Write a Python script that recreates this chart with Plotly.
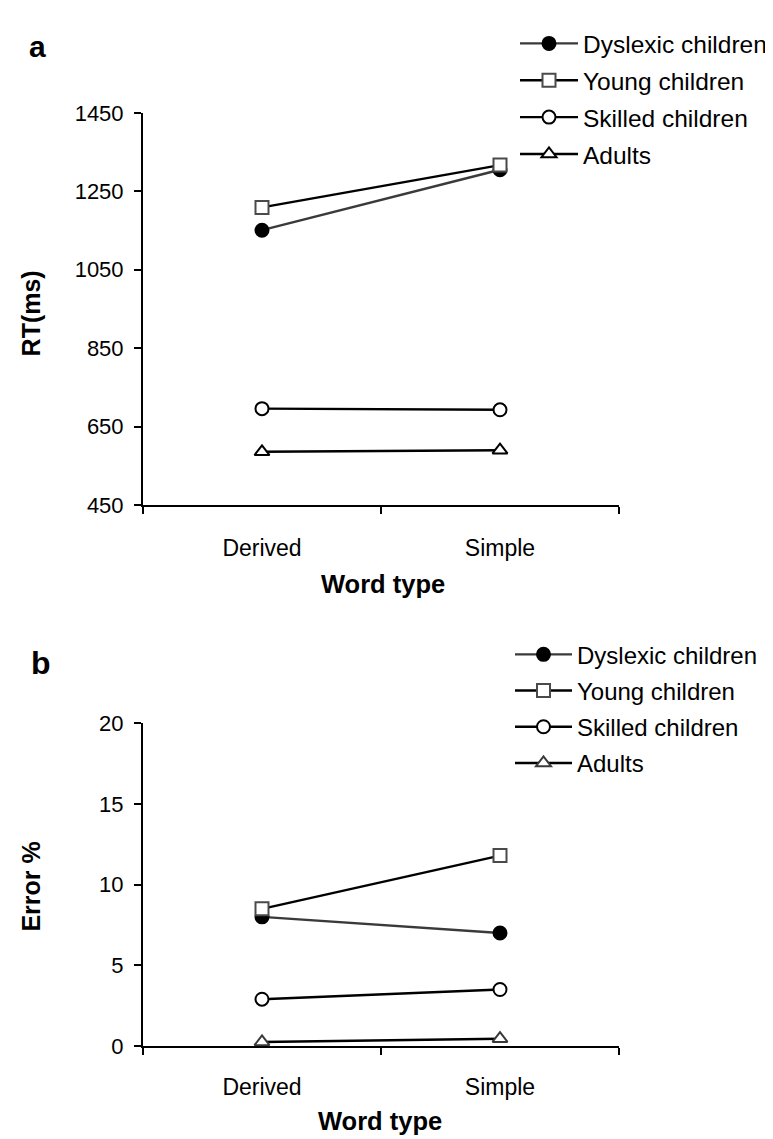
import plotly.graph_objects as go

word_types = ["Derived", "Simple"]
groups = ["Dyslexic children", "Young children", "Skilled children", "Adults"]

# Panel a: reaction times (ms)
rt_dyslexic = [1151, 1305]
rt_young = [1209, 1317]
rt_skilled = [696, 693]
rt_adults = [586, 590]

# Panel b: error percentages
err_dyslexic = [8.0, 7.0]
err_young = [8.5, 11.8]
err_skilled = [2.9, 3.5]
err_adults = [0.25, 0.45]

rt_ticks = [450, 650, 850, 1050, 1250, 1450]
err_ticks = [0, 5, 10, 15, 20]

W, H = 773, 1139
FONT = "Liberation Sans, Arial, Helvetica, sans-serif"

def px(x):
    return x / W

def py(y):
    return 1 - y / H

styles = {
    "Dyslexic children": dict(line_color="#3a3a3a", symbol="circle", mcolor="black", mline="black"),
    "Young children": dict(line_color="black", symbol="square", mcolor="white", mline="#4a4a4a"),
    "Skilled children": dict(line_color="black", symbol="circle", mcolor="white", mline="black"),
    "Adults": dict(line_color="black", symbol="triangle-up", mcolor="white", mline="black"),
}

fig = go.Figure()

def add_panel(values, xa, ya, legend, adult_edge):
    for name, vals in zip(groups, values):
        st = styles[name]
        mline = adult_edge if name == "Adults" else st["mline"]
        fig.add_trace(go.Scatter(
            x=word_types, y=vals, name=name, mode="lines+markers",
            xaxis=xa, yaxis=ya, legend=legend, legendgroup=legend + name,
            line=dict(color=st["line_color"], width=2.4),
            marker=dict(symbol=st["symbol"], size=13, color=st["mcolor"],
                        line=dict(color=mline, width=2)),
            hoverinfo="skip",
        ))

add_panel([rt_dyslexic, rt_young, rt_skilled, rt_adults], "x", "y", "legend", "black")
add_panel([err_dyslexic, err_young, err_skilled, err_adults], "x2", "y2", "legend2", "#3a3a3a")

xdom = [px(135), px(611)]
common_x = dict(type="category", categoryorder="array", categoryarray=word_types,
                range=[-0.5, 1.5], tickson="boundaries", ticks="outside", ticklen=7,
                tickwidth=1.6, tickcolor="black", showline=True, linewidth=2,
                linecolor="black", showgrid=False, zeroline=False,
                tickfont=dict(size=23, color="black", family=FONT), domain=xdom)
common_y = dict(ticks="outside", ticklen=7, tickwidth=1.6, tickcolor="black",
                showline=True, linewidth=2, linecolor="black", showgrid=False,
                zeroline=False, tickfont=dict(size=22, color="black", family=FONT),
                ticklabelstandoff=6)

fig.update_layout(
    width=W, height=H,
    margin=dict(l=0, r=0, t=0, b=0),
    paper_bgcolor="white", plot_bgcolor="white",
    font=dict(family=FONT, color="black"),
    xaxis=dict(**common_x, anchor="y", ticklabelstandoff=21),
    yaxis=dict(**common_y, anchor="x", range=[450, 1450], tickvals=rt_ticks,
               domain=[py(496), py(95)]),
    xaxis2=dict(**common_x, anchor="y2", ticklabelstandoff=19),
    yaxis2=dict(**common_y, anchor="x2", range=[0, 20], tickvals=err_ticks,
                domain=[py(1049), py(719)]),
    legend=dict(x=px(507), y=py(1), xanchor="left", yanchor="top",
                font=dict(size=24.5, family=FONT, color="black"),
                bgcolor="rgba(0,0,0,0)", tracegroupgap=2, itemwidth=58),
    legend2=dict(x=px(502), y=py(626), xanchor="left", yanchor="top",
                 font=dict(size=24, family=FONT, color="black"),
                 bgcolor="rgba(0,0,0,0)", tracegroupgap=2, itemwidth=57),
    showlegend=True,
)

annotations = [
    dict(text="<b>a</b>", x=px(30), y=py(27), font=dict(size=30)),
    dict(text="<b>b</b>", x=px(33), y=py(657), font=dict(size=32)),
    dict(text="<b>RT(ms)</b>", x=px(23), y=py(300), textangle=-90, font=dict(size=25)),
    dict(text="<b>Error %</b>", x=px(23), y=py(886), textangle=-90, font=dict(size=25)),
    dict(text="<b>Word type</b>", x=px(375), y=py(577), font=dict(size=25.5)),
    dict(text="<b>Word type</b>", x=px(372), y=py(1126), font=dict(size=25.5)),
]
for a in annotations:
    a.update(xref="paper", yref="paper", xanchor="center", yanchor="middle",
             showarrow=False)
    a["font"].update(family=FONT, color="black")
    fig.add_annotation(**a)

fig.write_html("out.html")
